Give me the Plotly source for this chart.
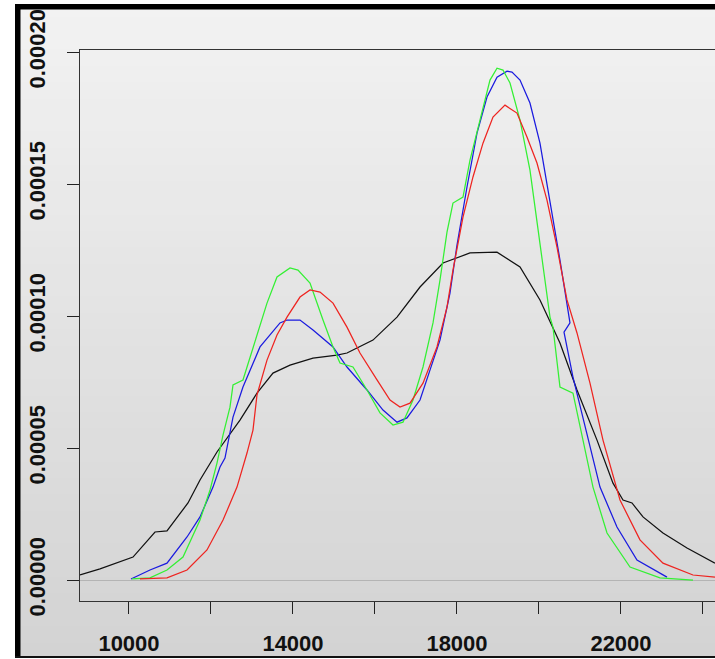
import plotly.graph_objects as go

# ---- data ----
black_x = [8805, 9293, 10098, 10634, 10927, 11439, 11732, 12146, 12707, 13122, 13512, 13927,
           14488, 15073, 15317, 15951, 16537, 17098, 17659, 18317, 18976, 19537, 20024, 20512,
           20927, 21415, 21805, 22049, 22268, 22537, 23024, 23610, 24293]
black_y = [1.9e-6, 4.2e-6, 8.7e-6, 1.82e-5, 1.86e-5, 2.92e-5, 3.79e-5, 4.85e-5, 6.06e-5, 7.08e-5,
           7.84e-5, 8.14e-5, 8.41e-5, 8.52e-5, 8.60e-5, 9.09e-5, 9.96e-5, 1.110e-4, 1.201e-4,
           1.239e-4, 1.242e-4, 1.186e-4, 1.061e-4, 8.98e-5, 7.20e-5, 5.30e-5, 3.67e-5, 3.03e-5,
           2.92e-5, 2.39e-5, 1.78e-5, 1.21e-5, 6.4e-6]

blue_x = [10049, 10512, 10927, 11415, 11732, 12049, 12220, 12341, 12537, 12780, 13195, 13683,
          13854, 14171, 14488, 14976, 15317, 15805, 16195, 16537, 16780, 17098, 17341, 17585,
          17829, 18000, 18244, 18488, 18732, 18976, 19220, 19341, 19537, 19780, 20024, 20268,
          20512, 20756, 20610, 20829, 21171, 21488, 21902, 22390, 23122]
blue_y = [4e-7, 3.8e-6, 6.4e-6, 1.63e-5, 2.39e-5, 3.52e-5, 4.28e-5, 4.62e-5, 6.17e-5, 7.31e-5,
          8.83e-5, 9.74e-5, 9.85e-5, 9.85e-5, 9.47e-5, 8.83e-5, 8.07e-5, 7.20e-5, 6.44e-5,
          5.98e-5, 6.14e-5, 6.82e-5, 7.95e-5, 9.09e-5, 1.087e-4, 1.269e-4, 1.489e-4, 1.693e-4,
          1.830e-4, 1.905e-4, 1.928e-4, 1.924e-4, 1.894e-4, 1.807e-4, 1.655e-4, 1.439e-4,
          1.212e-4, 9.74e-5, 9.39e-5, 7.69e-5, 5.57e-5, 3.52e-5, 2.01e-5, 7.6e-6, 1.1e-6]

green_x = [10073, 10512, 10927, 11317, 11732, 11976, 12146, 12293, 12463, 12537, 12780, 13024,
           13366, 13610, 13927, 14122, 14415, 14732, 14976, 15146, 15463, 15805, 16122, 16439,
           16683, 16927, 17171, 17415, 17585, 17756, 17902, 18146, 18317, 18561, 18805, 18976,
           19122, 19293, 19537, 19780, 20024, 20268, 20341, 20512, 20829, 21000, 21317, 21659,
           22220, 22951, 23756]
green_y = [4e-7, 8e-7, 3.8e-6, 8.7e-6, 2.27e-5, 3.41e-5, 4.43e-5, 5.49e-5, 6.55e-5, 7.39e-5,
           7.58e-5, 8.83e-5, 1.049e-4, 1.148e-4, 1.182e-4, 1.174e-4, 1.125e-4, 9.85e-5, 8.83e-5,
           8.22e-5, 8.07e-5, 7.20e-5, 6.33e-5, 5.87e-5, 5.98e-5, 6.82e-5, 8.07e-5, 9.74e-5,
           1.136e-4, 1.318e-4, 1.428e-4, 1.451e-4, 1.591e-4, 1.742e-4, 1.894e-4, 1.939e-4,
           1.932e-4, 1.883e-4, 1.742e-4, 1.553e-4, 1.277e-4, 9.96e-5, 9.58e-5, 7.31e-5, 7.08e-5,
           5.80e-5, 3.52e-5, 1.78e-5, 4.9e-6, 8e-7, 0.0]

red_x = [10268, 10927, 11415, 11902, 12293, 12634, 12878, 13024, 13122, 13366, 13610, 13854,
         14171, 14415, 14659, 14976, 15317, 15634, 16049, 16366, 16610, 16854, 17171, 17512,
         17756, 17902, 18146, 18390, 18634, 18878, 19171, 19463, 19707, 19951, 20195, 20439,
         20683, 20927, 21244, 21561, 21976, 22463, 23024, 23756, 24293]
red_y = [4e-7, 8e-7, 3.8e-6, 1.14e-5, 2.27e-5, 3.52e-5, 4.81e-5, 5.68e-5, 7.01e-5, 8.33e-5,
         9.28e-5, 9.96e-5, 1.072e-4, 1.099e-4, 1.091e-4, 1.049e-4, 9.58e-5, 8.60e-5, 7.58e-5,
         6.82e-5, 6.55e-5, 6.70e-5, 7.46e-5, 8.83e-5, 1.034e-4, 1.174e-4, 1.375e-4, 1.527e-4,
         1.655e-4, 1.754e-4, 1.799e-4, 1.769e-4, 1.678e-4, 1.580e-4, 1.439e-4, 1.261e-4,
         1.061e-4, 9.36e-5, 7.46e-5, 5.30e-5, 3.03e-5, 1.52e-5, 6.4e-6, 1.9e-6, 1.1e-6]

x_tickvals = [10000, 12000, 14000, 16000, 18000, 20000, 22000, 24000]
x_ticktext = ["10000", "", "14000", "", "18000", "", "22000", ""]
y_tickvals = [0.0, 0.00005, 0.0001, 0.00015, 0.0002]
y_ticktext = ["0.00000", "0.00005", "0.00010", "0.00015", "0.00020"]

series = [
    (black_x, black_y, "#111111"),
    (blue_x, blue_y, "#1a1adf"),
    (green_x, green_y, "#33f033"),
    (red_x, red_y, "#ee2420"),
]

fig = go.Figure()
for xs, ys, col in series:
    fig.add_trace(go.Scatter(x=xs, y=ys, mode="lines",
                             line=dict(color=col, width=1.25, shape="linear"),
                             showlegend=False, hoverinfo="skip"))

# ---- layout geometry (plot area spans px 80..715, 50..601) ----
W, H = 715, 659
L, R, T, B = 80, 0, 50, 58
pw, ph = W - L - R, H - T - B

def px_x(p):
    return (p - L) / pw

def px_y(p):
    return (H - B - p) / ph

shapes = []
nb = 40
for i in range(nb):
    y0 = i * H / nb
    y1 = (i + 1) * H / nb + 1
    t = (i + 0.5) / nb
    c = int(243 - 32 * t)
    shapes.append(dict(type="rect", xref="paper", yref="paper", layer="below",
                       x0=px_x(0), x1=px_x(W), y0=px_y(y1), y1=px_y(y0),
                       fillcolor=f"rgb({c},{c},{c})", line=dict(width=0)))
# white outer margins and black frame
shapes += [
    dict(type="rect", xref="paper", yref="paper", layer="below",
         x0=px_x(0), x1=px_x(15), y0=px_y(H), y1=px_y(0), fillcolor="white", line=dict(width=0)),
    dict(type="rect", xref="paper", yref="paper", layer="below",
         x0=px_x(0), x1=px_x(W), y0=px_y(4), y1=px_y(0), fillcolor="white", line=dict(width=0)),
    dict(type="rect", xref="paper", yref="paper", layer="below",
         x0=px_x(15), x1=px_x(20.5), y0=px_y(658), y1=px_y(4), fillcolor="black", line=dict(width=0)),
    dict(type="rect", xref="paper", yref="paper", layer="below",
         x0=px_x(15), x1=px_x(W), y0=px_y(9.5), y1=px_y(4), fillcolor="black", line=dict(width=0)),
    dict(type="rect", xref="paper", yref="paper", layer="below",
         x0=px_x(15), x1=px_x(W), y0=px_y(658), y1=px_y(656), fillcolor="#111111", line=dict(width=0)),
    dict(type="rect", xref="paper", yref="paper", layer="below",
         x0=px_x(0), x1=px_x(W), y0=px_y(H), y1=px_y(658), fillcolor="white", line=dict(width=0)),
]

tickfont = dict(family="Liberation Sans", size=22, color="#111111", weight="bold")

fig.update_layout(
    width=W, height=H,
    margin=dict(l=L, r=R, t=T, b=B, pad=0),
    paper_bgcolor="#e4e4e4",
    plot_bgcolor="rgba(0,0,0,0)",
    shapes=shapes,
    xaxis=dict(range=[8805, 24293], tickmode="array", tickvals=x_tickvals, ticktext=x_ticktext,
               ticks="outside", ticklen=12, tickwidth=1.3, tickcolor="#222222",
               showline=True, linecolor="#333333", linewidth=1.3, mirror=True,
               showgrid=False, zeroline=False, tickfont=tickfont, ticklabelstandoff=10),
    yaxis=dict(range=[-7.95e-6, 2.008e-4], tickmode="array", tickvals=y_tickvals, ticktext=y_ticktext,
               tickangle=-90, ticks="outside", ticklen=12, tickwidth=1.3, tickcolor="#222222",
               showline=True, linecolor="#333333", linewidth=1.3, mirror=True,
               showgrid=False, zeroline=True, zerolinecolor="#b4b4b4", zerolinewidth=1,
               tickfont=tickfont, ticklabelstandoff=13),
)

fig.write_html("out.html", config={"displayModeBar": False},
               post_script="document.body.style.margin='0';document.body.style.overflow='hidden';")
